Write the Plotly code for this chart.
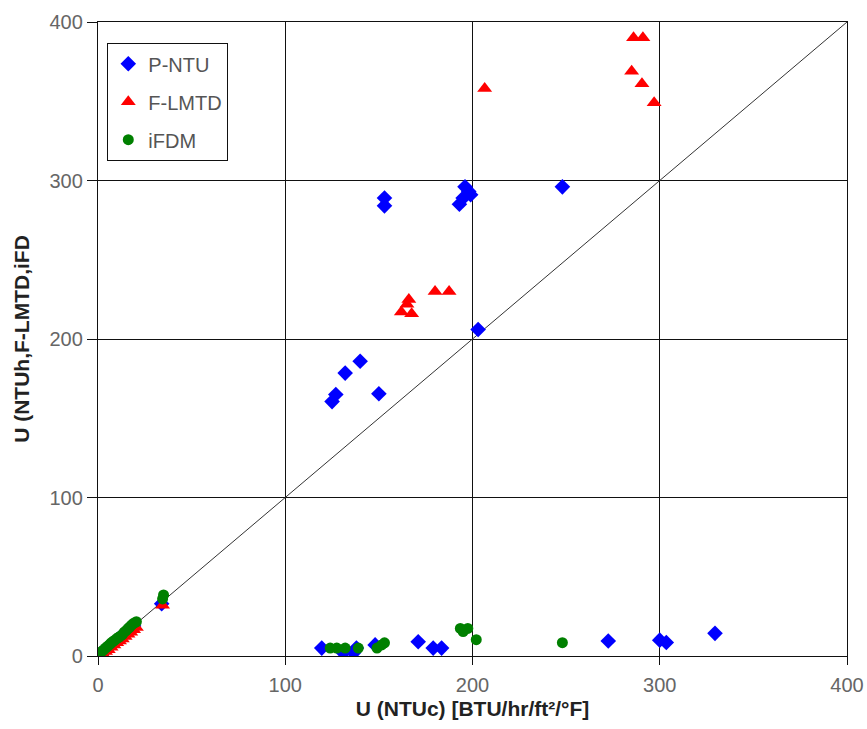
import plotly.graph_objects as go

# P-NTU (blue diamonds)
pntu_x = [0.5, 1.5, 3, 5, 7, 9, 11, 13, 15, 17, 19, 34,
          125, 127, 132, 140, 150, 153, 153, 193, 196, 198, 199, 195, 203, 248,
          119.5, 131, 136.5, 138, 148, 171, 179, 183.5, 272.5, 300, 303.5, 329.5]
pntu_y = [0.6, 1.5, 3, 5, 7, 9, 11, 13, 15, 17, 19, 33,
          160.5, 165, 178.5, 186, 165.5, 284, 289, 285, 296, 293, 291, 289, 206, 296,
          5, 2, 2, 5, 7, 9, 5, 5, 9.5, 10, 8.5, 14.3]

# F-LMTD (red triangles)
flmtd_x = [0.5, 1.5, 2.5, 4, 5.5, 7, 8.5, 10, 11.5, 13, 14.5, 16, 17.5, 19, 20.5, 34.5,
           162, 165, 166, 167.5, 180, 187.5,
           206.5, 286, 291, 285, 290.5, 297]
flmtd_y = [0.2, 0.8, 1.5, 2.8, 4, 5.5, 7, 8.3, 9.5, 10.8, 12.3, 13.7, 15, 16.5, 18, 32,
           217, 222, 225, 216, 230, 230,
           358, 390, 390, 369, 361, 349]

# iFDM (green circles)
ifdm_x = [0.5, 1, 2, 3, 4, 5, 6, 7, 8, 9, 10, 11, 12, 13, 14, 15, 16, 17, 18, 19, 20.5, 35, 34.5,
          124, 127.5, 132, 139, 149, 151.5, 153, 193.5, 197.5, 195, 202, 248]
ifdm_y = [1, 1.8, 2.8, 3.8, 5, 6, 7, 8.2, 9.2, 10, 11, 11.8, 12.5, 13.5, 15, 16, 17.3, 18.3, 19.6, 20.6, 21.6, 38.5, 36,
          5, 5, 5, 5, 5, 7, 8.3, 17.4, 17.4, 15.4, 10.3, 8.4]

diag_x = [0, 400]
diag_y = [0, 400]

axis_ticks = [0, 100, 200, 300, 400]
x_title = "U (NTUc) [BTU/hr/ft²/°F]"
y_title = "U (NTUh,F-LMTD,iFD"

FONT = "Liberation Sans, Arial, sans-serif"

fig = go.Figure()
fig.add_trace(go.Scatter(x=diag_x, y=diag_y, mode="lines",
                         line=dict(color="#333333", width=1), showlegend=False,
                         hoverinfo="skip"))
fig.add_trace(go.Scatter(x=pntu_x, y=pntu_y, mode="markers", name="P-NTU",
                         legendgroup="a",
                         marker=dict(symbol="diamond", size=12, color="#0000FF",
                                     line=dict(width=0))))
fig.add_trace(go.Scatter(x=flmtd_x, y=flmtd_y, mode="markers", name="F-LMTD",
                         legendgroup="b",
                         marker=dict(symbol="triangle-up", size=13, color="#FF0000",
                                     line=dict(width=0))))
fig.add_trace(go.Scatter(x=ifdm_x, y=ifdm_y, mode="markers", name="iFDM",
                         legendgroup="c",
                         marker=dict(symbol="circle", size=11, color="#008000",
                                     line=dict(width=0))))

axis_common = dict(
    range=[0, 400], tickvals=axis_ticks, ticktext=[str(t) for t in axis_ticks],
    showgrid=True, gridcolor="#111111", gridwidth=1.3,
    showline=True, linecolor="#111111", linewidth=1.3, mirror=True,
    zeroline=False, ticks="outside", tickcolor="#111111",
    tickfont=dict(family=FONT, size=20, color="#666666"),
    automargin=False,
)

fig.update_layout(
    width=867, height=729,
    margin=dict(l=98, r=20, t=22, b=73),
    paper_bgcolor="white", plot_bgcolor="white",
    font=dict(family=FONT, color="#222222"),
    xaxis=dict(**axis_common, ticklen=8, ticklabelstandoff=3,
               title=dict(text=x_title, font=dict(family=FONT, size=21, color="#222222",
                                                  weight="bold"), standoff=6)),
    yaxis=dict(**axis_common, ticklen=10,
               title=dict(text=y_title, font=dict(family=FONT, size=21, color="#222222",
                                                  weight="bold"), standoff=14)),
    legend=dict(x=0.012, y=0.967, xanchor="left", yanchor="top",
                bordercolor="#111111", borderwidth=1.3, bgcolor="white",
                font=dict(family=FONT, size=20, color="#555555"),
                tracegroupgap=9, itemwidth=30),
    showlegend=True,
)

fig.write_html("out.html", config={"displayModeBar": False},
               post_script="document.body.style.margin='0';document.body.style.overflow='hidden';")
